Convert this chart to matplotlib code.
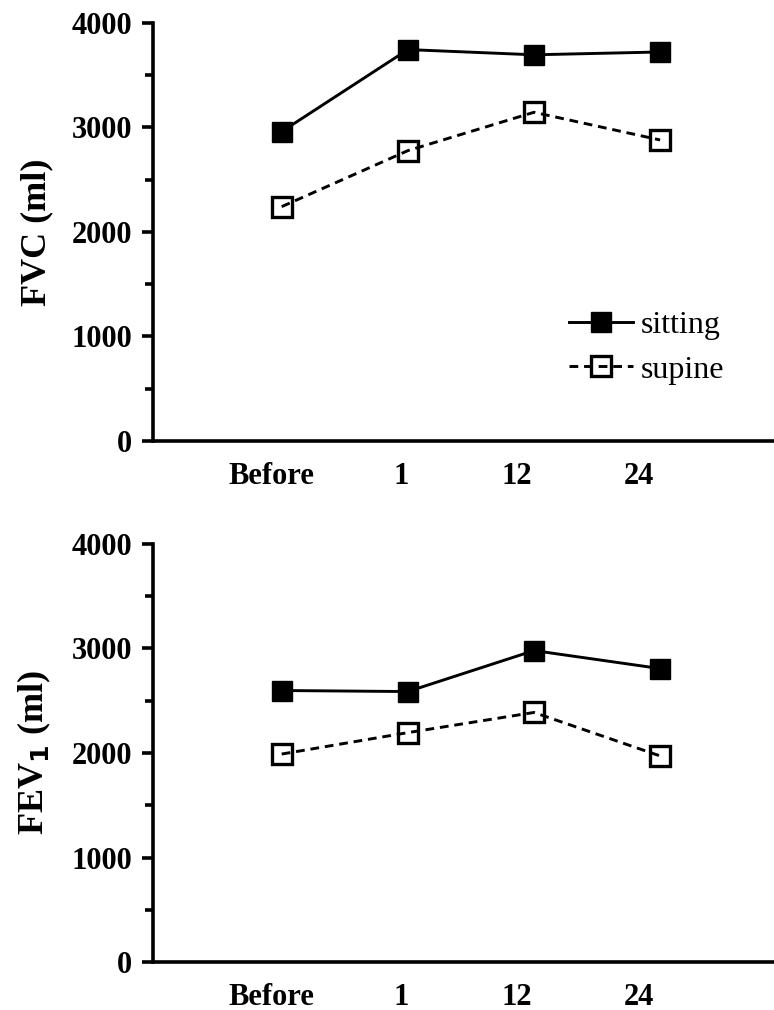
import matplotlib
matplotlib.use("Agg")
import matplotlib.pyplot as plt
from matplotlib.ticker import MultipleLocator

plt.rcParams['font.family'] = ['Liberation Serif', 'DejaVu Serif']

times = ["Before", "1", "12", "24"]
x_pos = [0, 1, 2, 3]
label_pos = [-0.08, 0.95, 1.86, 2.83]

fvc_sitting = [2960, 3745, 3695, 3722]
fvc_supine = [2242, 2778, 3145, 2880]
fev1_sitting = [2598, 2588, 2980, 2808]
fev1_supine = [1990, 2195, 2388, 1972]

fig = plt.figure(figsize=(7.74, 10.10), dpi=100)
ax1 = fig.add_axes([0.1977, 0.5634, 0.81, 0.4139])
ax2 = fig.add_axes([0.1977, 0.0475, 0.81, 0.4139])


def style_panel(ax, sitting, supine, ylab):
    l1, = ax.plot(x_pos, sitting, '-', color='black', lw=2.1, marker='s',
                  ms=14.5, mfc='black', mec='black', label='sitting')
    l2, = ax.plot(x_pos, supine, '--', color='black', lw=2.1, marker='s',
                  ms=14.5, mfc='none', mec='black', mew=2.4,
                  dashes=(3.0, 2.0), label='supine')
    ax.set_xlim(-1.02, 3.95)
    ax.set_ylim(0, 4000)
    for s in ['top', 'right']:
        ax.spines[s].set_visible(False)
    for s in ['left', 'bottom']:
        ax.spines[s].set_linewidth(2.6)
    ax.yaxis.set_major_locator(MultipleLocator(1000))
    ax.yaxis.set_minor_locator(MultipleLocator(500))
    ax.tick_params(axis='y', which='major', length=8, width=2.6, pad=7,
                   labelsize=22)
    ax.tick_params(axis='y', which='minor', length=6, width=2.6)
    ax.set_xticks(label_pos)
    ax.set_xticklabels(times)
    ax.tick_params(axis='x', length=0, pad=15, labelsize=22)
    for lab in ax.get_xticklabels() + ax.get_yticklabels():
        lab.set_fontweight('bold')
    ax.set_ylabel(ylab, fontsize=26, fontweight='bold', labelpad=13)
    return l1, l2


style_panel(ax1, fvc_sitting, fvc_supine, 'FVC (ml)')
style_panel(ax2, fev1_sitting, fev1_supine, r'FEV$_\mathbf{1}$ (ml)')

ax1.legend(loc='upper left', bbox_to_anchor=(0.663, 0.312), frameon=False,
           fontsize=23, handlelength=2.0, handletextpad=0.25,
           labelspacing=0.48, borderaxespad=0, borderpad=0)

fig.savefig('out.png', dpi=100)
